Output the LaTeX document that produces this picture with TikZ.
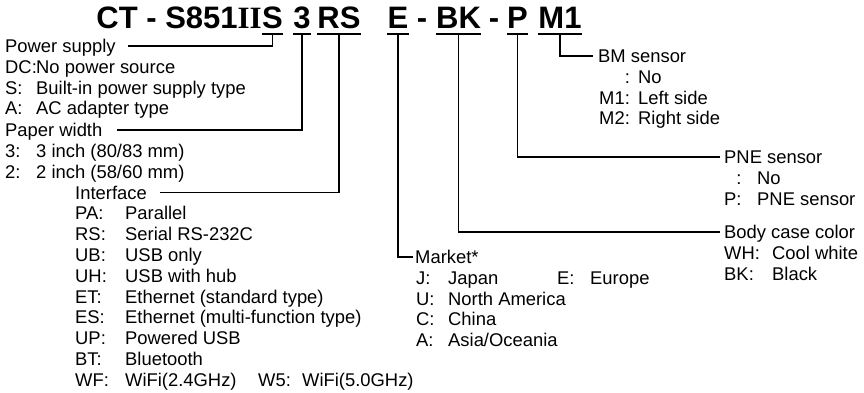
\documentclass[tikz,border=0pt]{standalone}
\usepackage{fontspec}
\setmainfont{Liberation Sans}
\newfontfamily\romanfont{Liberation Serif}
\newcommand\lblfont{\fontsize{18.4}{21}\selectfont}
\newcommand\codefont{\fontsize{31}{31}\selectfont\bfseries}
\newcommand\keyval[3][31pt]{\makebox[#1][l]{#2}#3}
\tikzset{
  code/.style={font=\codefont, inner sep=0pt, anchor=base},
  txt/.style={font=\lblfont, inner sep=0pt, anchor=west, text height=13pt, text depth=0pt},
  link/.style={line width=1.5pt},
  uline/.style={line width=1.5pt}
}
\begin{document}
\begin{tikzpicture}[x=1pt, y=-1pt]
  \def\codey{28}
  \def\ulsep{-6pt}
  \def\rowstep{20.8}
  \useasboundingbox (0,0) rectangle (864,392);
  \node[code, anchor=base east] (lead) at (262,\codey) {CT - S851{\romanfont II}};
  \node[code] (cS) at (272.5,\codey) {S};
  \node[code] (c3) at (302,\codey) {3};
  \node[code] (cRS) at (339,\codey) {RS};
  \node[code] (cE) at (398,\codey) {E};
  \node[code] (dashA) at (422,\codey) {-};
  \node[code] (cBK) at (458.5,\codey) {BK};
  \node[code] (dashB) at (494,\codey) {-};
  \node[code] (cP) at (517.5,\codey) {P};
  \node[code] (cM) at (560,\codey) {M1};
  \foreach \c in {cS,c3,cRS,cE,cBK,cP,cM}
    \draw[uline] ([yshift=\ulsep]\c.base west) -- ([yshift=\ulsep]\c.base east);

  \node[txt] (pwr) at (5,46) {Power supply};
  \foreach \k/\v [count=\i] in {DC:/No power source, S:/Built-in power supply type, A:/AC adapter type}
    \node[txt] (pwr\i) at (5,46+\i*\rowstep) {\keyval{\k}{\v}};
  \node[txt] (pw) at (5,130) {Paper width};
  \foreach \k/\v [count=\i] in {3:/{3 inch (80/83 mm)}, 2:/{2 inch (58/60 mm)}}
    \node[txt] (pw\i) at (5,130+\i*\rowstep) {\keyval{\k}{\v}};
  \node[txt] (iface) at (75,192.5) {Interface};
  \foreach \k/\v [count=\i] in {PA:/Parallel, RS:/Serial RS-232C, UB:/USB only, UH:/USB with hub,
      ET:/Ethernet (standard type), ES:/Ethernet (multi-function type), UP:/Powered USB,
      BT:/Bluetooth, WF:/WiFi(2.4GHz)}
    \node[txt] (iface\i) at (75,192.5+\i*\rowstep) {\keyval[50pt]{\k}{\v}};
  \node[txt] (ifaceW) at (258,192.5+9*\rowstep) {\keyval[44pt]{W5:}{WiFi(5.0GHz)}};

  \node[txt] (mkt) at (415,257) {Market*};
  \foreach \k/\v [count=\i] in {J:/Japan, U:/North America, C:/China, A:/{Asia/Oceania}}
    \node[txt] (mkt\i) at (416,257+\i*\rowstep) {\keyval[32pt]{\k}{\v}};
  \node[txt] (mktE) at (557,257+\rowstep) {\keyval[33pt]{E:}{Europe}};

  \node[txt] (body) at (724,232) {Body case color};
  \node[txt] (body1) at (724,232+\rowstep) {\keyval[48pt]{WH:}{Cool white}};
  \node[txt] (body2) at (724,232+2*\rowstep) {\keyval[48pt]{BK:}{Black}};

  \node[txt] (pne) at (724,157) {PNE sensor};
  \node[txt] (pne1) at (724,157+\rowstep) {\keyval[33pt]{\hphantom{P}:}{No}};
  \node[txt] (pne2) at (724,157+2*\rowstep) {\keyval[33pt]{P:}{PNE sensor}};

  \node[txt] (bm) at (598,56) {BM sensor};
  \node[txt] (bm1) at (599,56+\rowstep) {\keyval[39pt]{\hphantom{M1}:}{No}};
  \node[txt] (bm2) at (599,56+2*\rowstep) {\keyval[39pt]{M1:}{Left side}};
  \node[txt] (bm3) at (599,56+3*\rowstep) {\keyval[39pt]{M2:}{Right side}};

  \draw[link, shorten >=12pt] ([yshift=\ulsep]cS.base) |- (pwr.east);
  \draw[link, shorten >=14pt] ([yshift=\ulsep]c3.base) |- (pw.east);
  \draw[link, shorten >=13pt] ([yshift=\ulsep]cRS.base) |- (iface.east);
  \draw[link, shorten >=2pt] ([yshift=\ulsep]cE.base) |- (mkt.west);
  \draw[link, shorten >=4pt] ([yshift=\ulsep]cBK.base) |- (body.west);
  \draw[link, shorten >=4pt] ([yshift=\ulsep]cP.base) |- (pne.west);
  \draw[link, shorten >=5pt] ([yshift=\ulsep]cM.base) |- (bm.west);
\end{tikzpicture}
\end{document}
